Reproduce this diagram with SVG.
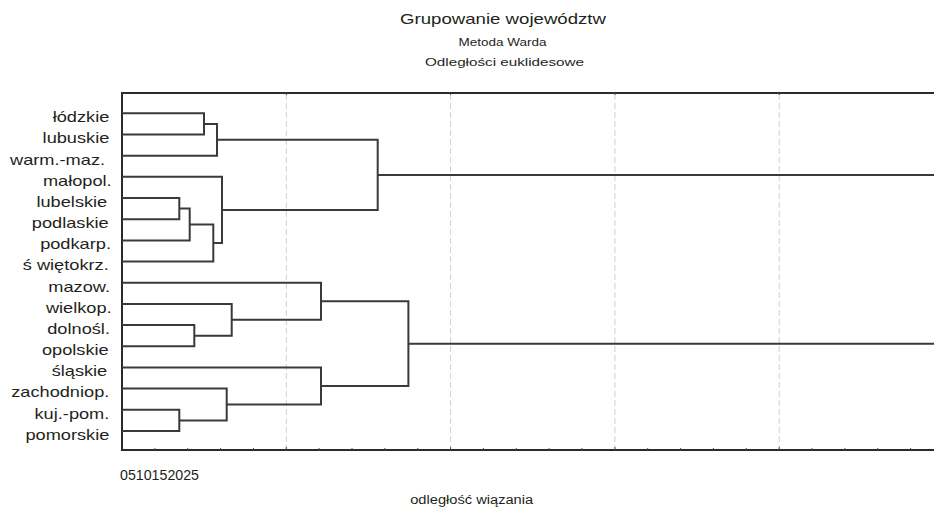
<svg xmlns="http://www.w3.org/2000/svg" width="934" height="507" viewBox="0 0 934 507">
<style>
.t{font-family:"Liberation Sans",Arial,sans-serif;fill:#231f20}
.lab{font-family:"Liberation Sans",Arial,sans-serif;font-size:14.8px;fill:#231f20;text-anchor:end}
.grid{stroke:#cfcfcf;stroke-width:1;stroke-dasharray:6 3;fill:none}
.ax{stroke:#2b2b2b;stroke-width:2;fill:none}
.tick{stroke:#4a4a4a;stroke-width:1;fill:none}
.link{stroke:#3a3a3a;stroke-width:2;fill:none}
</style>
<rect width="934" height="507" fill="#ffffff"/>
<g id="titles">
<text class="t" x="503" y="24" font-size="15" text-anchor="middle" textLength="206" lengthAdjust="spacingAndGlyphs">Grupowanie województw</text>
<text class="t" x="502.5" y="45.5" font-size="11.5" text-anchor="middle" textLength="88" lengthAdjust="spacingAndGlyphs">Metoda Warda</text>
<text class="t" x="504.5" y="65.5" font-size="11.5" text-anchor="middle" textLength="159" lengthAdjust="spacingAndGlyphs">Odległości euklidesowe</text>
</g>
<g id="grid">
<line class="grid" x1="286.3" y1="94" x2="286.3" y2="449"/>
<line class="grid" x1="450.6" y1="94" x2="450.6" y2="449"/>
<line class="grid" x1="614.9" y1="94" x2="614.9" y2="449"/>
<line class="grid" x1="779.2" y1="94" x2="779.2" y2="449"/>
</g>
<g id="axes">
<path class="ax" d="M934 93 H122 V450 H934"/>
<path class="tick" d="M154.9 450V448M187.7 450V448M220.6 450V448M253.4 450V448M286.3 450V447M319.1 450V448M352 450V448M384.8 450V448M417.7 450V448M450.6 450V447M483.4 450V448M516.3 450V448M549.1 450V448M582 450V448M614.9 450V447M647.7 450V448M680.6 450V448M713.4 450V448M746.3 450V448M779.2 450V447M812 450V448M844.9 450V448M877.7 450V448M910.6 450V448M286.3 93V95M450.6 93V95M614.9 93V95M779.2 93V95"/>
<text class="t" x="120" y="480" font-size="14.8" textLength="79" lengthAdjust="spacingAndGlyphs">0510152025</text>
<text class="t" x="471.7" y="504" font-size="12" text-anchor="middle" textLength="123" lengthAdjust="spacingAndGlyphs">odległość wiązania</text>
</g>
<g id="labels" transform="scale(1.23 1)">
<text id="n-lodzkie" class="lab" x="88.9" y="122.2">łódzkie</text>
<text id="n-lubuskie" class="lab" x="88.9" y="143.4">lubuskie</text>
<text id="n-warm" class="lab" x="85.4" y="164.6">warm.-maz.</text>
<text id="n-malopol" class="lab" x="90.8" y="185.7">małopol.</text>
<text id="n-lubelskie" class="lab" x="87.2" y="206.9">lubelskie</text>
<text id="n-podlaskie" class="lab" x="88.4" y="228.1">podlaskie</text>
<text id="n-podkarp" class="lab" x="90.2" y="249.3">podkarp.</text>
<text id="n-swietokrz" class="lab" x="88.4" y="270.5">ś więtokrz.</text>
<text id="n-mazow" class="lab" x="89.4" y="291.6">mazow.</text>
<text id="n-wielkop" class="lab" x="90.8" y="312.8">wielkop.</text>
<text id="n-dolnosl" class="lab" x="89.4" y="334">dolnośl.</text>
<text id="n-opolskie" class="lab" x="88.4" y="355.2">opolskie</text>
<text id="n-slaskie" class="lab" x="87.2" y="376.4">śląskie</text>
<text id="n-zachodniop" class="lab" x="88.9" y="397.5">zachodniop.</text>
<text id="n-kujpom" class="lab" x="88.9" y="418.7">kuj.-pom.</text>
<text id="n-pomorskie" class="lab" x="88.9" y="439.9">pomorskie</text>
</g>
<g id="connectors">
<path class="link" d="M122 113.3 H204 V134.5 H122"/>
<path class="link" d="M204 123.9 H217 V155.7 H122"/>
<path class="link" d="M122 198 H179.3 V219.2 H122"/>
<path class="link" d="M179.3 208.6 H189.7 V240.4 H122"/>
<path class="link" d="M189.7 224.5 H213.3 V261.6 H122"/>
<path class="link" d="M122 176.8 H222 V243 H213.3"/>
<path class="link" d="M217 139.8 H377.7 V209.9 H222"/>
<path class="link" d="M377.7 174.9 H934"/>
<path class="link" d="M122 325.1 H194.3 V346.3 H122"/>
<path class="link" d="M122 303.9 H231.7 V335.7 H194.3"/>
<path class="link" d="M122 282.7 H321 V319.8 H231.7"/>
<path class="link" d="M122 409.8 H179.3 V431 H122"/>
<path class="link" d="M122 388.6 H226.7 V420.4 H179.3"/>
<path class="link" d="M122 367.5 H321 V404.5 H226.7"/>
<path class="link" d="M321 301.3 H408.4 V386 H321"/>
<path class="link" d="M408.4 343.7 H934"/>
</g>
</svg>
